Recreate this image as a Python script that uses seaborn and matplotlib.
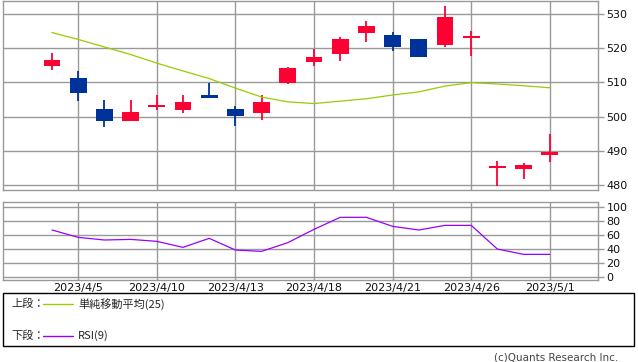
import numpy as np
import pandas as pd
import matplotlib
matplotlib.use("Agg")
import matplotlib.pyplot as plt
from matplotlib.lines import Line2D
from matplotlib.patches import Rectangle
import seaborn as sns

# ---------------------------
# Data
# ---------------------------
dates = ["2023/4/4", "2023/4/5", "2023/4/6", "2023/4/7", "2023/4/10",
         "2023/4/11", "2023/4/12", "2023/4/13", "2023/4/14", "2023/4/17",
         "2023/4/18", "2023/4/19", "2023/4/20", "2023/4/21", "2023/4/24",
         "2023/4/25", "2023/4/26", "2023/4/27", "2023/4/28", "2023/5/1"]
opens = [514.8, 511.2, 502.1, 498.7, 502.7, 501.9, 506.2, 502.1, 501.1, 509.8,
         515.9, 518.3, 524.4, 523.7, 522.5, 520.9, 522.9, 485.0, 484.8, 488.8]
closes = [516.4, 506.9, 498.7, 501.3, 503.3, 504.2, 505.4, 500.2, 504.2, 514.1,
          517.3, 522.5, 526.4, 520.2, 517.3, 528.9, 523.4, 485.5, 485.8, 489.7]
highs = [518.5, 513.3, 504.8, 504.8, 506.2, 506.2, 509.8, 503.0, 506.2, 514.5,
         519.6, 523.2, 527.8, 524.6, 522.5, 532.1, 524.9, 487.0, 486.6, 494.9]
lows = [513.5, 504.6, 497.0, 498.7, 501.8, 501.1, 505.4, 497.2, 498.9, 509.4,
        514.8, 516.1, 521.7, 519.1, 517.3, 520.2, 517.7, 479.9, 481.8, 486.8]
sma25 = [524.5, 522.5, 520.3, 518.1, 515.6, 513.3, 511.1, 508.3, 505.7, 504.3,
         503.8, 504.5, 505.2, 506.3, 507.2, 508.9, 509.9, 509.5, 509.0, 508.4]
rsi9 = [66.7, 56.2, 52.4, 53.3, 50.5, 41.9, 54.8, 38.1, 36.2, 48.6,
        67.6, 84.8, 84.8, 71.9, 66.7, 73.3, 73.3, 39.5, 31.9, 31.9]
tick_dates = ["2023/4/5", "2023/4/10", "2023/4/13", "2023/4/18",
              "2023/4/21", "2023/4/26", "2023/5/1"]

df = pd.DataFrame({"date": dates, "open": opens, "close": closes,
                   "high": highs, "low": lows, "sma": sma25, "rsi": rsi9})
df["i"] = np.arange(len(df))
df["up"] = df["close"] >= df["open"]

UP = "#ff0033"
DOWN = "#003399"
GRID = "#999999"

sns.set_style("white")
plt.rcParams["font.family"] = ["DejaVu Sans", "Noto Sans CJK JP"]

W, H = 638, 362
fig = plt.figure(figsize=(W / 100, H / 100), dpi=100)

def px_axes(x0, y0, x1, y1):
    return fig.add_axes([x0 / W, 1 - y1 / H, (x1 - x0) / W, (y1 - y0) / H])

ax1 = px_axes(3, 1, 598, 190)
ax2 = px_axes(3, 201.7, 598, 280)

tick_pos = [dates.index(d) for d in tick_dates]

# ---------------------------
# Candles + SMA
# ---------------------------
colors = np.where(df["up"], UP, DOWN)
ax1.vlines(df["i"], df["low"], df["high"], colors=colors, lw=1.3, zorder=2)
body_lo = df[["open", "close"]].min(axis=1)
body_h = (df["close"] - df["open"]).abs().clip(lower=0.5)
ax1.bar(df["i"], body_h, bottom=body_lo, width=0.64, color=colors,
        linewidth=0, zorder=3)
sns.lineplot(data=df, x="i", y="sma", ax=ax1, color="#99cc00", lw=0.9,
             zorder=4)

ax1.set_ylim(478.6, 533.7)
ax1.set_yticks(range(480, 531, 10))

# ---------------------------
# RSI
# ---------------------------
sns.lineplot(data=df, x="i", y="rsi", ax=ax2, color="#9900ff", lw=0.9,
             zorder=4)
ax2.set_ylim(-4.7, 107.1)
ax2.set_yticks(range(0, 101, 20))

for ax in (ax1, ax2):
    ax.set_xlim(-1.87, 20.84)
    ax.set_xticks(tick_pos)
    ax.yaxis.tick_right()
    ax.set_xlabel("")
    ax.set_ylabel("")
    ax.set_axisbelow(True)
    ax.grid(True, color=GRID, lw=1)
    for s in ax.spines.values():
        s.set_color(GRID)
        s.set_linewidth(1)
    ax.tick_params(axis="y", length=4, width=1, color=GRID, pad=2,
                   labelsize=8, labelcolor="#111111")
    ax.tick_params(axis="x", length=2, width=1, color=GRID, pad=0.5,
                   labelsize=8, labelcolor="#111111")

ax1.set_xticklabels([])
ax1.tick_params(axis="x", length=0)
ax2.set_xticklabels(tick_dates)

# ---------------------------
# Legend box
# ---------------------------
fig.patches.append(Rectangle((3 / W, 1 - 346 / H), 631 / W, 53 / H,
                             transform=fig.transFigure, fill=False,
                             edgecolor="black", lw=1))
jp = ["Noto Sans CJK JP", "DejaVu Sans"]
for y, label, name, col in [(304, "上段：", "単純移動平均(25)", "#99cc00"),
                            (335.5, "下段：", "RSI(9)", "#9900ff")]:
    fig.text(11 / W, 1 - y / H, label, family=jp, fontsize=8, va="center")
    fig.lines.append(Line2D([43 / W, 73 / W], [1 - y / H, 1 - y / H],
                            transform=fig.transFigure, color=col, lw=1))
    fig.text(78 / W, 1 - y / H, name, family=jp, fontsize=8, va="center")

fig.text(618 / W, 1 - 357 / H, "(c)Quants Research Inc.", ha="right",
         va="center", fontsize=7.5, color="#444444")

plt.savefig("out.png", dpi=100)
